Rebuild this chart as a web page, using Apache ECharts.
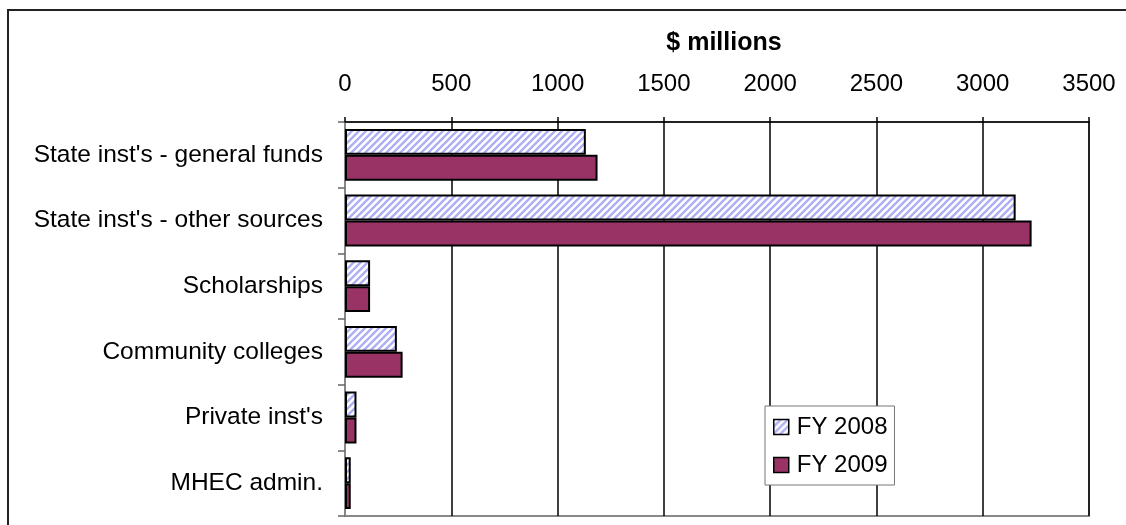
<!DOCTYPE html>
<html>
<head>
<meta charset="utf-8">
<script src="https://cdn.jsdelivr.net/npm/echarts@6/dist/echarts.min.js"></script>
<style>
  html, body { margin: 0; padding: 0; background: #fff; }
  #chart { width: 1126px; height: 525px; }
</style>
</head>
<body>
<div id="chart"></div>
<script>
// Higher-education spending by category, $ millions
const categories = [
  "State inst's - general funds",
  "State inst's - other sources",
  "Scholarships",
  "Community colleges",
  "Private inst's",
  "MHEC admin."
];
const fy2008 = [1133, 3155, 118, 244, 54, 27];
const fy2009 = [1188, 3230, 118, 271, 54, 27];
const seriesNames = ['FY 2008', 'FY 2009'];
const axisMax = 3500;
const axisStep = 500;

// light blue diagonal hatch for the FY 2008 bars
function makeHatch() {
  const size = 7;
  const c = document.createElement('canvas');
  c.width = size; c.height = size;
  const g = c.getContext('2d');
  g.fillStyle = '#ffffff';
  g.fillRect(0, 0, size, size);
  g.strokeStyle = '#aeaef4';
  g.lineWidth = 2.4;
  g.beginPath();
  g.moveTo(-2, size + 2); g.lineTo(size + 2, -2);
  g.moveTo(-2 - size, size + 2); g.lineTo(2, -2);
  g.moveTo(size - 2, size + 2); g.lineTo(size * 2 + 2, -2);
  g.stroke();
  return c;
}
const hatch = { image: makeHatch(), repeat: 'repeat' };
const plum = '#993366';

const chart = echarts.init(document.getElementById('chart'), null, { renderer: 'canvas' });
const font = '"Liberation Sans", Arial, sans-serif';

chart.setOption({
  animation: false,
  textStyle: { fontFamily: font },
  graphic: [{
    type: 'rect',
    shape: { x: 8, y: 10, width: 1200, height: 600 },
    style: { fill: 'none', stroke: '#222', lineWidth: 2 },
    silent: true
  }],
  title: {
    text: '$ millions',
    left: 719,
    top: 26,
    textAlign: 'center',
    textStyle: { fontFamily: font, fontSize: 25, fontWeight: 'bold', color: '#000' }
  },
  grid: {
    left: 345, right: 37, top: 122, bottom: 9,
    show: true, borderColor: '#888', borderWidth: 2, backgroundColor: 'transparent'
  },
  legend: {
    orient: 'vertical',
    left: 765, top: 406,
    padding: [9, 7, 8, 8],
    itemGap: 14,
    itemWidth: 15, itemHeight: 15,
    backgroundColor: '#fff',
    borderColor: '#777', borderWidth: 1,
    textStyle: { fontFamily: font, fontSize: 24, color: '#000', padding: [0, 0, 0, 3] },
    data: [
      { name: seriesNames[0], icon: 'rect', itemStyle: { color: hatch, borderColor: '#000', borderWidth: 1.5 } },
      { name: seriesNames[1], icon: 'rect', itemStyle: { color: plum, borderColor: '#000', borderWidth: 1.5 } }
    ]
  },
  xAxis: {
    type: 'value',
    position: 'top',
    min: 0, max: axisMax, interval: axisStep,
    axisLine: { show: true, lineStyle: { color: '#000', width: 1.5 } },
    axisTick: { show: true, length: 5, lineStyle: { color: '#000', width: 1.5 } },
    axisLabel: { fontSize: 24, color: '#000', margin: 26, fontFamily: font, formatter: v => String(v) },
    splitLine: { show: true, lineStyle: { color: '#000', width: 1.5 } }
  },
  yAxis: {
    type: 'category',
    inverse: true,
    data: categories,
    axisLine: { show: true, lineStyle: { color: '#888', width: 2 } },
    axisTick: { show: true, length: 7, lineStyle: { color: '#666', width: 1.5 } },
    axisLabel: { fontSize: 24.5, color: '#000', margin: 22, fontFamily: font },
    splitLine: { show: false }
  },
  series: [
    {
      name: seriesNames[0], type: 'bar', data: fy2008,
      barGap: '0%', barCategoryGap: '21%',
      itemStyle: { color: hatch, borderColor: '#000', borderWidth: 2 }
    },
    {
      name: seriesNames[1], type: 'bar', data: fy2009,
      barGap: '0%', barCategoryGap: '21%',
      itemStyle: { color: plum, borderColor: '#000', borderWidth: 2 }
    }
  ]
});
</script>
</body>
</html>
